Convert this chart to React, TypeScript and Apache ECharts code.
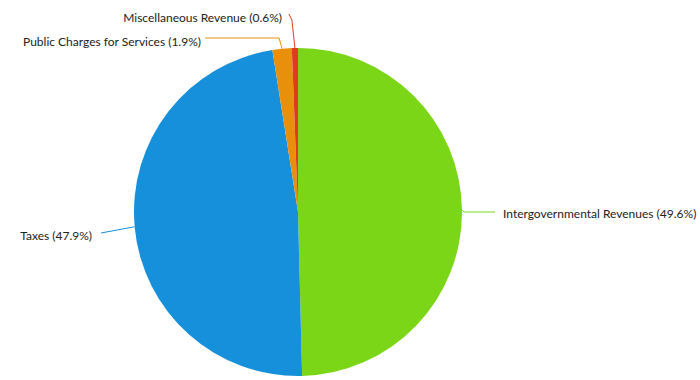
import React, { useEffect, useRef } from "react";
import * as echarts from "echarts";

const categories = [
  "Intergovernmental Revenues",
  "Taxes",
  "Public Charges for Services",
  "Miscellaneous Revenue",
];
const values = [49.6, 47.9, 1.9, 0.6];
const colors = ["#7BD617", "#1790DB", "#E8900C", "#E23A1E"];

export default function App() {
  const ref = useRef<HTMLDivElement>(null);
  useEffect(() => {
    document.body.style.margin = "0";
    const chart = echarts.init(ref.current!, null, { renderer: "svg" });
    chart.setOption({
      animation: false,
      backgroundColor: "#ffffff",
      series: [
        {
          type: "pie",
          center: [298, 212],
          radius: 164,
          startAngle: 90,
          clockwise: true,
          avoidLabelOverlap: false,
          data: categories.map((name, i) => ({
            name,
            value: values[i],
            itemStyle: { color: colors[i] },
            labelLine: { lineStyle: { color: colors[i], width: 1 } },
          })),
          label: {
            formatter: (p: any) => `${p.name} (${p.value}%)`,
            fontFamily: "Lato",
            fontSize: 12,
            color: "#222",
            overflow: "none",
          },
          labelLine: { length: 8, length2: 28 },
          labelLayout: (p: any) => {
            const pts = p.labelLinePoints;
            if (!pts) return {};
            const a = pts[0];
            if (p.dataIndex === 0) {
              return {
                x: 503,
                y: 213,
                align: "left",
                verticalAlign: "middle",
                labelLinePoints: [a, [a[0] + 2, 212], [495, 212]],
              };
            }
            if (p.dataIndex === 1) {
              return {
                x: 92,
                y: 235,
                align: "right",
                verticalAlign: "middle",
                labelLinePoints: [a, [a[0] - 1, a[1]], [101, 233]],
              };
            }
            if (p.dataIndex === 2) {
              return {
                x: 201,
                y: 41,
                align: "right",
                verticalAlign: "middle",
                labelLinePoints: [a, [a[0] - 3, 38], [205, 38]],
              };
            }
            if (p.dataIndex === 3) {
              return {
                x: 282,
                y: 17,
                align: "right",
                verticalAlign: "middle",
                labelLinePoints: [a, [a[0] - 3, 20], [a[0] - 6, 14]],
              };
            }
            return {};
          },
          itemStyle: { borderWidth: 0 },
        },
      ],
    });
    return () => chart.dispose();
  }, []);
  return <div ref={ref} style={{ width: 700, height: 380 }} />;
}
